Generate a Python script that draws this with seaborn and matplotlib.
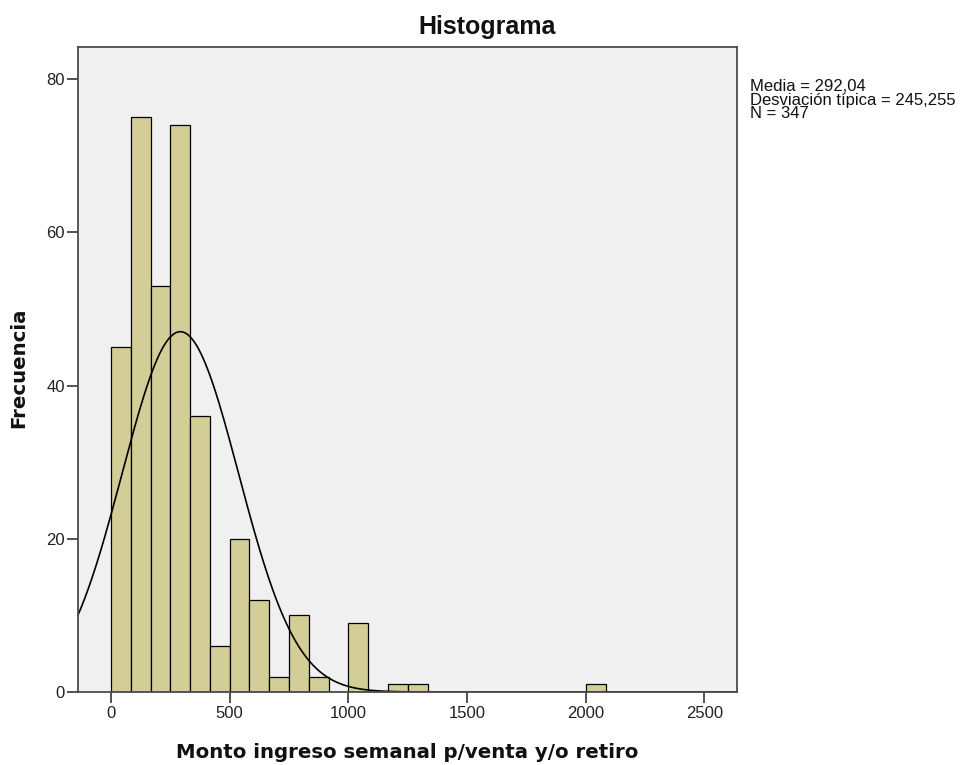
import numpy as np
import pandas as pd
import matplotlib
matplotlib.use("Agg")
import matplotlib.pyplot as plt
import seaborn as sns

# bin counts (bin width = 1000/12)
BIN_WIDTH = 1000 / 12
bin_index = [0, 1, 2, 3, 4, 5, 6, 7, 8, 9, 10, 12, 14, 15, 24]
counts    = [45, 75, 53, 74, 36, 6, 20, 12, 2, 10, 2, 9, 1, 1, 1]

MEAN = 292.04
SD   = 245.255
N    = 347

x_ticks = [0, 500, 1000, 1500, 2000, 2500]
y_ticks = [0, 20, 40, 60, 80]

BAR_COLOR = "#d3ce98"
BG_COLOR  = "#f0f0f0"

df = pd.DataFrame({
    "monto": [(i + 0.5) * BIN_WIDTH for i in bin_index],
    "freq":  counts,
})

sns.set_theme(style="white")
plt.rcParams["font.family"] = ["Liberation Sans", "DejaVu Sans"]

W, H = 961, 765
fig = plt.figure(figsize=(W / 100, H / 100), dpi=100)
ax = fig.add_axes([78 / W, 1 - 692 / H, (737 - 78) / W, (692 - 47) / H])
ax.set_facecolor(BG_COLOR)

sns.histplot(data=df, x="monto", weights="freq", binwidth=BIN_WIDTH,
             binrange=(0, 25 * BIN_WIDTH), color=BAR_COLOR, alpha=1,
             edgecolor="black", linewidth=0.9, ax=ax)

# fitted normal curve
xs = np.linspace(-140, 2640, 600)
ys = N * BIN_WIDTH * np.exp(-0.5 * ((xs - MEAN) / SD) ** 2) / (SD * np.sqrt(2 * np.pi))
sns.lineplot(x=xs, y=ys, color="black", linewidth=1.2, ax=ax)

ax.set_xlim(-139, 2637)
ax.set_ylim(0, 84.2)
ax.set_xticks(x_ticks)
ax.set_yticks(y_ticks)
ax.tick_params(axis="both", direction="out", length=8, width=1.2, color="#333333",
               labelsize=12, bottom=True, left=True, labelcolor="#222222")
ax.tick_params(axis="x", pad=2)
ax.tick_params(axis="y", pad=1.5)
for s in ax.spines.values():
    s.set_color("#4a4a4a")
    s.set_linewidth(1.3)

ax.set_xlabel("")
ax.set_ylabel("")

# labels placed like SPSS does it
fig.text(407 / W, 1 - 758 / H, "Monto ingreso semanal p/venta y/o retiro",
         fontsize=14.2, fontweight="bold", family="DejaVu Sans",
         ha="center", va="baseline", color="#111111")
fig.text(19 / W, 1 - 368 / H, "Frecuencia", rotation=90,
         fontsize=14.2, fontweight="bold", family="DejaVu Sans",
         ha="center", va="center", color="#111111")
fig.text(487.5 / W, 1 - 34.3 / H, "Histograma", fontsize=18, fontweight="bold",
         ha="center", va="baseline", color="#111111")

fig.text(750 / W, 1 - 79 / H, "Media = 292,04\nDesviación típica = 245,255\nN = 347",
         fontsize=12, va="top", ha="left", linespacing=0.88, color="#111111")

fig.savefig("out.png", dpi=100, facecolor="white")
